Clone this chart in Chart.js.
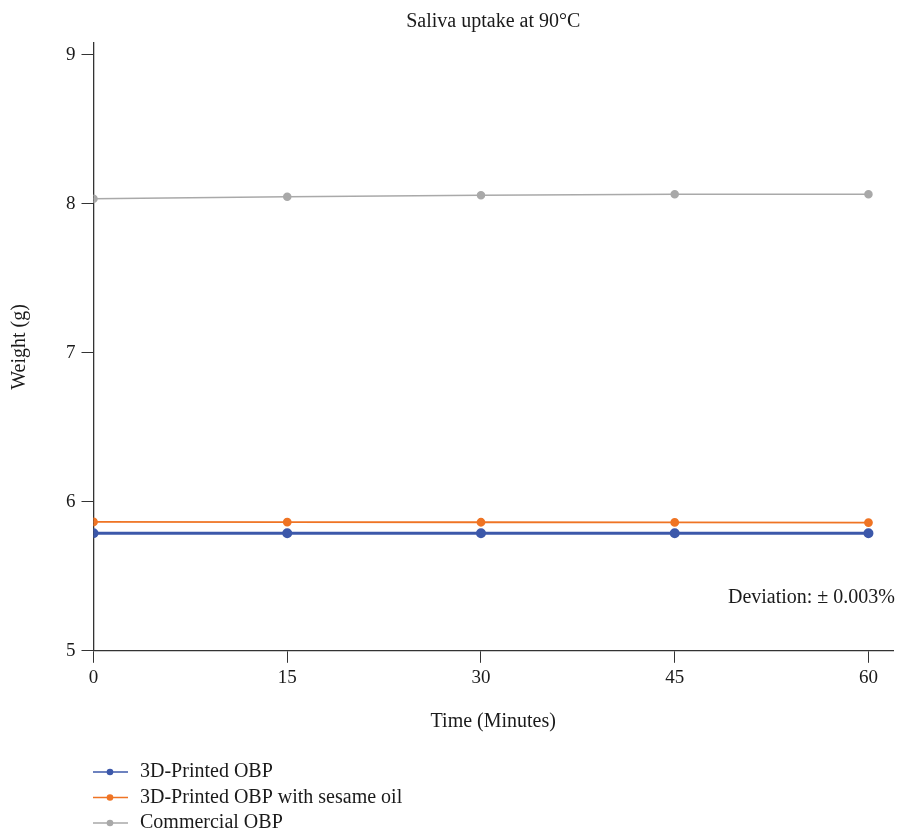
<!DOCTYPE html>
<html>
<head>
    <script src="https://cdn.jsdelivr.net/npm/chart.js@4/dist/chart.umd.min.js"></script>
    <style>
        body { margin: 0; background: #fff; }
    </style>
</head>
<body>
    <canvas id="myChart" width="900" height="837"></canvas>

    <script>
        const times = [0, 15, 30, 45, 60];
        const printed = [5.789, 5.789, 5.789, 5.789, 5.789];
        const printedSesame = [5.865, 5.864, 5.863, 5.862, 5.861];
        const commercial = [8.035, 8.048, 8.058, 8.064, 8.064];
        const yTicks = [5, 6, 7, 8, 9];
        const xTicks = [0, 15, 30, 45, 60];

        const serif = "'Liberation Serif', 'DejaVu Serif', serif";
        const ink = '#1a1a1a';

        function pts(vals) {
            return times.map(function (t, i) { return {x: t, y: vals[i]}; });
        }

        // vertical legend under the x axis title
        const sideLegend = {
            id: 'sideLegend',
            afterDraw(chart) {
                const ctx = chart.ctx;
                ctx.save();
                chart.data.datasets.forEach(function (ds, i) {
                    const y = 772 + i * 25.5;
                    ctx.strokeStyle = ds.borderColor;
                    ctx.lineWidth = 1.5;
                    ctx.beginPath();
                    ctx.moveTo(93, y);
                    ctx.lineTo(128, y);
                    ctx.stroke();
                    ctx.fillStyle = ds.borderColor;
                    ctx.beginPath();
                    ctx.arc(110, y, 3.3, 0, Math.PI * 2);
                    ctx.fill();
                    ctx.fillStyle = ink;
                    ctx.font = '20px ' + serif;
                    ctx.textBaseline = 'middle';
                    ctx.textAlign = 'left';
                    ctx.fillText(ds.label, 140, y);
                });
                ctx.restore();
            }
        };

        const deviationNote = {
            id: 'deviationNote',
            afterDraw(chart) {
                const ctx = chart.ctx;
                ctx.save();
                ctx.fillStyle = ink;
                ctx.font = '20px ' + serif;
                ctx.textAlign = 'right';
                ctx.textBaseline = 'middle';
                ctx.fillText('Deviation: \u00B1 0.003%', 895, 598);
                ctx.restore();
            }
        };

        const data = {
            datasets: [{
                label: '3D-Printed OBP',
                data: pts(printed),
                borderColor: '#3c58aa',
                backgroundColor: '#3c58aa',
                borderWidth: 3,
                pointRadius: 3.5,
            },
            {
                label: '3D-Printed OBP with sesame oil',
                data: pts(printedSesame),
                borderColor: '#ef7424',
                backgroundColor: '#ef7424',
                borderWidth: 1.8,
                pointRadius: 3.5,
            },
            {
                label: 'Commercial OBP',
                data: pts(commercial),
                borderColor: '#a9a9a9',
                backgroundColor: '#a9a9a9',
                borderWidth: 1.5,
                pointRadius: 3.5,
            }]
        };

        const config = {
            type: 'line',
            data: data,
            options: {
                responsive: false,
                animation: false,
                layout: {
                    padding: {left: 0, right: 0, top: 0, bottom: 100}
                },
                plugins: {
                    legend: { display: false },
                    tooltip: { enabled: false },
                    title: {
                        display: true,
                        fullSize: false,
                        text: 'Saliva uptake at 90\u00B0C',
                        color: ink,
                        font: { family: serif, size: 20, weight: 'normal' },
                        padding: { top: 10, bottom: 9 }
                    }
                },
                scales: {
                    x: {
                        type: 'linear',
                        min: 0,
                        max: 61.9,
                        afterBuildTicks: function (axis) {
                            axis.ticks = xTicks.map(function (v) { return {value: v}; });
                        },
                        title: {
                            display: true,
                            text: 'Time (Minutes)',
                            color: ink,
                            font: { family: serif, size: 20 },
                            padding: { top: 16.6, bottom: 2.8 }
                        },
                        ticks: {
                            color: ink,
                            font: { family: serif, size: 19 },
                            padding: 4,
                            maxRotation: 0
                        },
                        grid: {
                            drawOnChartArea: false,
                            tickLength: 12,
                            color: '#333'
                        },
                        border: { color: '#333', width: 1.3 }
                    },
                    y: {
                        min: 5,
                        max: 9.08,
                        afterBuildTicks: function (axis) {
                            axis.ticks = yTicks.map(function (v) { return {value: v}; });
                        },
                        title: {
                            display: true,
                            text: 'Weight (g)',
                            color: ink,
                            font: { family: serif, size: 20 },
                            padding: { top: 8, bottom: 28 }
                        },
                        ticks: {
                            color: ink,
                            font: { family: serif, size: 19 },
                            padding: 6
                        },
                        grid: {
                            drawOnChartArea: false,
                            tickLength: 12,
                            color: '#333'
                        },
                        border: { color: '#333', width: 1.3 }
                    }
                }
            },
            plugins: [sideLegend, deviationNote]
        };

        var chart = new Chart(
            document.getElementById('myChart'),
            config
        );
    </script>
</body>
</html>
